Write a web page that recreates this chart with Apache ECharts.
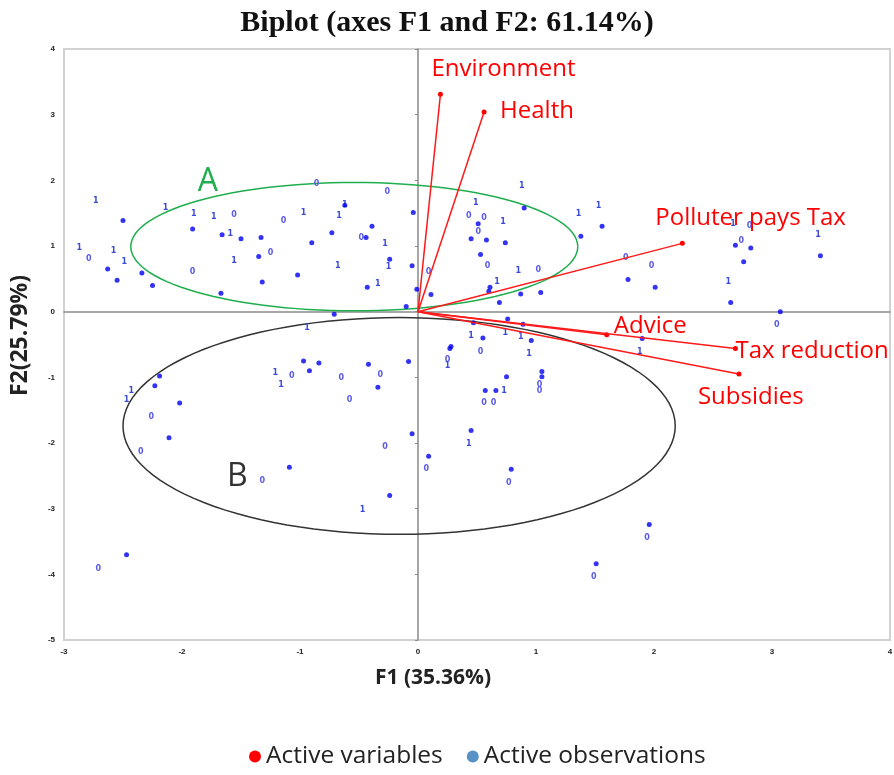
<!DOCTYPE html>
<html>
<head>
<meta charset="utf-8">
<script src="https://cdn.jsdelivr.net/npm/echarts@6/dist/echarts.min.js"></script>
<style>html,body{margin:0;padding:0;background:#fff;}#chart{width:894px;height:775px;}</style>
</head>
<body>
<div id="chart"></div>
<script>
// ---- data ----
const xTicks = [-3, -2, -1, 0, 1, 2, 3, 4];
const yTicks = [-5, -4, -3, -2, -1, 0, 1, 2, 3, 4];

const varNames = ['Environment', 'Health', 'Polluter pays Tax', 'Advice', 'Tax reduction', 'Subsidies'];
const varF1 = [0.19, 0.56, 2.24, 1.60, 2.69, 2.72];
const varF2 = [3.31, 3.04, 1.04, -0.35, -0.56, -0.95];

const obsDots = [
  [-2.50,1.39],[-2.63,0.65],[-2.55,0.48],[-2.34,0.59],[-2.25,0.40],[-1.91,1.26],[-1.66,1.17],[-1.50,1.11],
  [-1.33,1.13],[-1.35,0.84],[-1.67,0.28],[-1.32,0.45],[-0.90,1.05],[-1.02,0.56],[-0.73,1.20],[-0.62,1.62],
  [-0.39,1.30],[-0.04,1.51],[-0.44,1.13],[-0.24,0.80],[-0.05,0.70],[-0.43,0.37],[-0.01,0.34],[-0.10,0.08],
  [0.11,0.26],[0.90,1.58],[0.51,1.34],[0.45,1.11],[0.58,1.09],[0.74,1.05],[0.53,0.87],[0.61,0.37],
  [0.60,0.31],[0.69,0.14],[0.87,0.27],[1.04,0.29],[1.56,1.30],[1.38,1.15],[1.78,0.49],[2.01,0.37],
  [2.69,1.01],[2.82,0.97],[2.76,0.76],[3.41,0.85],[2.65,0.14],[3.07,0.00],[1.90,-0.41],
  [-0.71,-0.04],[-0.97,-0.75],[-0.84,-0.78],[-0.92,-0.90],[-2.19,-0.98],[-2.23,-1.13],[-2.02,-1.39],
  [-2.11,-1.92],[-1.09,-2.37],[-2.47,-3.70],[0.47,-0.17],[0.76,-0.11],[0.89,-0.19],[0.55,-0.40],
  [0.96,-0.44],[0.27,-0.56],[0.28,-0.53],[-0.42,-0.80],[-0.08,-0.76],[-0.34,-1.15],[0.75,-0.99],
  [1.05,-0.91],[1.05,-0.99],[0.57,-1.20],[0.66,-1.20],[0.45,-1.81],[-0.05,-1.86],[0.09,-2.20],
  [0.79,-2.40],[-0.24,-2.80],[1.51,-3.84],[1.96,-3.24]
];

const obsLabels = [
  [-2.73,1.69,'1'],[-2.14,1.58,'1'],[-2.87,0.97,'1'],[-2.79,0.80,'0'],[-2.58,0.92,'1'],[-2.49,0.75,'1'],
  [-1.90,1.49,'1'],[-1.91,0.61,'0'],[-1.73,1.44,'1'],[-1.56,1.48,'0'],[-1.59,1.18,'1'],[-1.56,0.78,'1'],
  [-1.25,0.90,'0'],[-1.14,1.38,'0'],[-0.97,1.51,'1'],[-0.86,1.95,'0'],[-0.26,1.83,'0'],[-0.62,1.63,'1'],
  [-0.67,1.46,'1'],[-0.48,1.13,'0'],[-0.28,1.03,'1'],[-0.25,0.68,'1'],[-0.68,0.70,'1'],[-0.34,0.42,'1'],
  [0.09,0.61,'0'],[0.88,1.92,'1'],[0.49,1.65,'1'],[0.43,1.46,'0'],[0.56,1.42,'0'],[0.72,1.37,'1'],
  [0.51,1.21,'0'],[0.59,0.70,'0'],[0.85,0.62,'1'],[1.02,0.64,'0'],[0.67,0.46,'1'],[1.36,1.49,'1'],
  [1.53,1.61,'1'],[1.76,0.82,'0'],[1.98,0.69,'0'],[2.67,1.34,'1'],[2.81,1.30,'0'],[2.74,1.08,'0'],
  [3.39,1.17,'1'],[2.63,0.46,'1'],[3.04,-0.20,'0'],[1.88,-0.61,'1'],
  [-0.94,-0.24,'1'],[-1.21,-0.94,'1'],[-1.07,-0.98,'0'],[-1.16,-1.12,'1'],[-2.43,-1.20,'1'],[-2.47,-1.34,'1'],
  [-2.26,-1.60,'0'],[-2.35,-2.13,'0'],[-1.32,-2.58,'0'],[-2.71,-3.92,'0'],[0.45,-0.37,'1'],[0.74,-0.32,'1'],
  [0.87,-0.39,'1'],[0.94,-0.64,'1'],[0.53,-0.61,'0'],[0.25,-0.74,'0'],[0.25,-0.82,'1'],[-0.32,-0.96,'0'],
  [-0.65,-1.01,'0'],[-0.58,-1.35,'0'],[1.03,-1.12,'0'],[1.03,-1.20,'0'],[0.73,-1.20,'1'],[0.56,-1.39,'0'],
  [0.64,-1.39,'0'],[0.43,-2.02,'1'],[-0.28,-2.06,'0'],[0.07,-2.40,'0'],[0.77,-2.61,'0'],[-0.47,-3.02,'1'],
  [1.49,-4.04,'0'],[1.94,-3.44,'0']
];

// group ellipses: [centre F1, centre F2, radius F1, radius F2]
const groupNames = ['A', 'B'];
const groupEllipses = [[-0.54, 0.99, 1.894, 0.977], [-0.16, -1.74, 2.34, 1.65]];
const groupLetterPos = [[-1.78, 1.97], [-1.53, -2.52]];

// ---- styles ----
const groupColors = ['#1fae4e', '#333333'];
const varLabelOffsets = [[-9,-25],[16,-1],[-27,-25],[7,-8],[0,3],[-41,23]];
const sansFont = '"Open Sans", "Noto Sans", sans-serif';

const chart = echarts.init(document.getElementById('chart'));

const option = {
  backgroundColor: '#fff',
  animation: false,
  title: {
    text: 'Biplot (axes F1 and F2: 61.14%)',
    left: 'center', top: 3,
    textStyle: { fontFamily: '"Liberation Serif", "Times New Roman", serif', fontWeight: 'bold', fontSize: 30, color: '#111' }
  },
  legend: {
    data: [
      { name: 'Active variables', itemStyle: { color: '#ff0000' } },
      { name: 'Active observations', itemStyle: { color: '#2e75b6' } }
    ],
    bottom: 1, left: 244,
    icon: 'circle', itemWidth: 12, itemHeight: 12, itemGap: 24,
    textStyle: { fontFamily: sansFont, fontSize: 24.5, color: '#222' }
  },
  grid: { left: 64, right: 4, top: 49, bottom: 135, show: true, borderColor: '#d2d2d2', borderWidth: 2, containLabel: false, outerBoundsMode: 'none' },
  xAxis: [
    {
      type: 'value', min: xTicks[0], max: xTicks[xTicks.length - 1], interval: 1, position: 'bottom',
      axisLine: { show: false, onZero: false }, axisTick: { show: false }, splitLine: { show: false },
      axisLabel: { fontSize: 8, fontWeight: 'bold', color: '#222', margin: 8 },
      name: 'F1 (35.36%)', nameLocation: 'middle', nameGap: 28,
      nameTextStyle: { fontFamily: sansFont, fontSize: 21, fontWeight: 'bold', color: '#222', padding: [0, 88, 0, 0] }
    },
    {
      type: 'value', min: xTicks[0], max: xTicks[xTicks.length - 1], interval: 1,
      axisLine: { show: true, onZero: true, onZeroAxisIndex: 0, lineStyle: { color: '#8a8a8a', width: 1.5 } },
      axisTick: { show: false }, axisLabel: { show: false }, splitLine: { show: false }
    }
  ],
  yAxis: [
    {
      type: 'value', min: yTicks[0], max: yTicks[yTicks.length - 1], interval: 1, position: 'left',
      axisLine: { show: false, onZero: false }, axisTick: { show: false }, splitLine: { show: false },
      axisLabel: { fontSize: 8, fontWeight: 'bold', color: '#222', margin: 9 },
      name: 'F2(25.79%)', nameLocation: 'middle', nameGap: 32, nameRotate: 90,
      nameTextStyle: { fontFamily: sansFont, fontSize: 23, fontWeight: 'bold', color: '#222', padding: [0, 0, 0, 18] }
    },
    {
      type: 'value', min: yTicks[0], max: yTicks[yTicks.length - 1], interval: 1, position: 'left',
      axisLine: { show: true, onZero: true, onZeroAxisIndex: 0, lineStyle: { color: '#8a8a8a', width: 1.5 } },
      axisTick: { show: true, length: 3, lineStyle: { color: '#8a8a8a', width: 1 } },
      axisLabel: { show: false }, splitLine: { show: false }
    }
  ],
  series: [
    {
      name: 'groups', type: 'custom', xAxisIndex: 0, yAxisIndex: 0, silent: true, z: 2,
      data: groupEllipses.map((e, i) => [e[0], e[1], e[2], e[3], groupLetterPos[i][0], groupLetterPos[i][1], i]),
      encode: { x: 0, y: 1 },
      renderItem: function (params, api) {
        const cx = api.value(0), cy = api.value(1), rx = api.value(2), ry = api.value(3);
        const idx = params.dataIndex;
        const pts = [];
        for (let k = 0; k <= 120; k++) {
          const t = k / 120 * Math.PI * 2;
          pts.push(api.coord([cx + rx * Math.cos(t), cy + ry * Math.sin(t)]));
        }
        const lp = api.coord([api.value(4), api.value(5)]);
        return {
          type: 'group',
          children: [
            { type: 'polyline', shape: { points: pts }, style: { stroke: groupColors[idx], lineWidth: 1.5, fill: null } },
            { type: 'text', x: lp[0], y: lp[1], style: { text: groupNames[idx], fill: groupColors[idx], font: '32px ' + sansFont, align: 'center', verticalAlign: 'middle' } }
          ]
        };
      }
    },
    {
      name: 'Active observations', type: 'scatter', xAxisIndex: 0, yAxisIndex: 0, z: 3,
      symbol: 'circle', symbolSize: 5,
      itemStyle: { color: '#0000f0' },
      data: obsDots
    },
    {
      name: 'obs labels', type: 'custom', xAxisIndex: 0, yAxisIndex: 0, silent: true, z: 3,
      data: obsLabels,
      encode: { x: 0, y: 1 },
      renderItem: function (params, api) {
        const p = api.coord([api.value(0), api.value(1)]);
        const txt = obsLabels[params.dataIndex][2];
        return {
          type: 'text', x: p[0], y: p[1],
          style: { text: txt, fill: txt === '0' ? '#5a5ae6' : '#3a4ad8', font: 'bold 8px "DejaVu Sans", sans-serif', align: 'center', verticalAlign: 'middle' }
        };
      }
    },
    {
      name: 'Active variables', type: 'custom', xAxisIndex: 0, yAxisIndex: 0, silent: true, z: 4,
      itemStyle: { color: '#ff0000' },
      data: varF1.map((v, i) => [v, varF2[i]]),
      encode: { x: 0, y: 1 },
      renderItem: function (params, api) {
        const i = params.dataIndex;
        const o = api.coord([0, 0]);
        const e = api.coord([api.value(0), api.value(1)]);
        const off = varLabelOffsets[i];
        return {
          type: 'group',
          children: [
            { type: 'line', shape: { x1: o[0], y1: o[1], x2: e[0], y2: e[1] }, style: { stroke: '#ff1a1a', lineWidth: 1.5 } },
            { type: 'circle', shape: { cx: e[0], cy: e[1], r: 2.5 }, style: { fill: '#ff0000' } },
            { type: 'text', x: e[0] + off[0], y: e[1] + off[1], style: { text: varNames[i], fill: '#ff0000', font: '24px ' + sansFont, align: 'left', verticalAlign: 'middle' } }
          ]
        };
      }
    }
  ]
};
chart.setOption(option);
</script>
</body>
</html>
